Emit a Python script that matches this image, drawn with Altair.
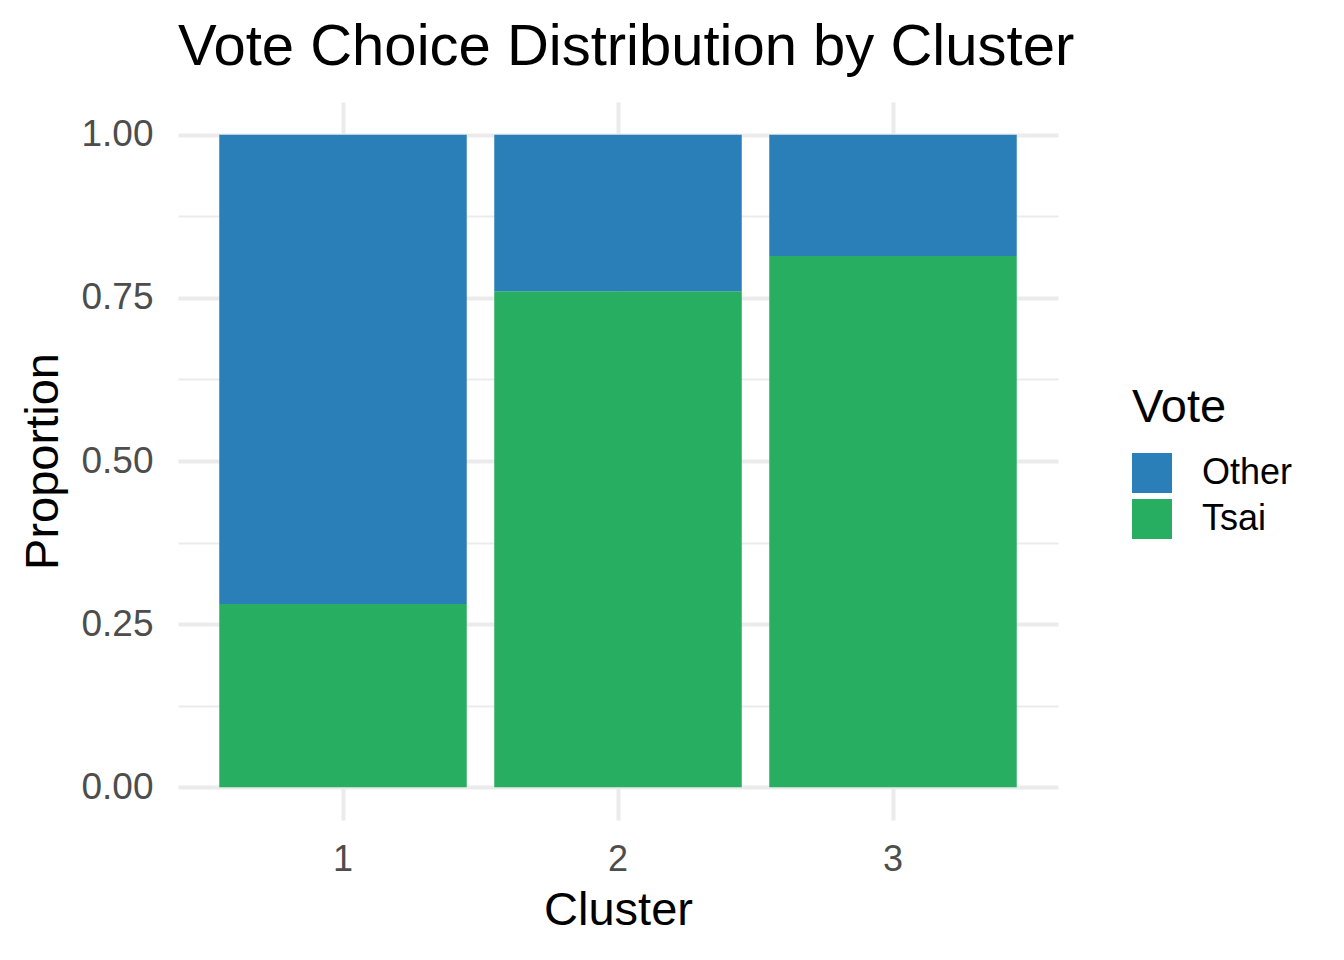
import altair as alt
import pandas as pd

clusters = ["1", "2", "3"]
tsai_share = [0.281, 0.760, 0.814]
other_share = [round(1 - v, 3) for v in tsai_share]
votes = ["Other", "Tsai"]
vote_colors = ["#2B7FB8", "#27AE60"]
y_ticks = [0, 0.125, 0.25, 0.375, 0.5, 0.625, 0.75, 0.875, 1.0]

rows = []
for c, t, o in zip(clusters, tsai_share, other_share):
    rows.append({"cluster": c, "vote": "Tsai", "prop": t, "ord": 0})
    rows.append({"cluster": c, "vote": "Other", "prop": o, "ord": 1})
df = pd.DataFrame(rows)

FONT = "Liberation Sans"

chart = (
    alt.Chart(df)
    .mark_bar()
    .encode(
        x=alt.X(
            "cluster:N",
            title="Cluster",
            scale=alt.Scale(paddingInner=0.1, paddingOuter=0.15),
            axis=alt.Axis(
                labelAngle=0,
                grid=True,
                bandPosition=0.5,
                gridColor="#EBEBEB",
                gridWidth=4,
                ticks=False,
                tickSize=0,
                domain=False,
                labelFontSize=36,
                labelColor="#4D4D4D",
                labelPadding=22,
                titleFontSize=47,
                titleFontWeight="normal",
                titleColor="#000000",
                titlePadding=10,
                labelFont=FONT,
                titleFont=FONT,
            ),
        ),
        y=alt.Y(
            "prop:Q",
            title="Proportion",
            stack="zero",
            scale=alt.Scale(domain=[-0.05, 1.05], nice=False, zero=False),
            axis=alt.Axis(
                values=y_ticks,
                labelExpr="datum.value % 0.25 === 0 ? format(datum.value, '.2f') : ''",
                grid=True,
                gridColor="#EBEBEB",
                gridWidth={"condition": {"test": "datum.value % 0.25 === 0", "value": 4}, "value": 2},
                ticks=False,
                tickSize=0,
                domain=False,
                labelFontSize=37,
                labelColor="#4D4D4D",
                labelPadding=25,
                titleFontSize=47,
                titleFontWeight="normal",
                titleColor="#000000",
                titlePadding=13,
                labelFont=FONT,
                titleFont=FONT,
            ),
        ),
        color=alt.Color(
            "vote:N",
            title="Vote",
            scale=alt.Scale(domain=votes, range=vote_colors),
            legend=alt.Legend(
                orient="none",
                legendX=954,
                legendY=283,
                symbolType="square",
                symbolSize=1600,
                symbolStrokeWidth=0,
                symbolOpacity=1,
                rowPadding=6,
                labelOffset=30,
                labelFontSize=36,
                labelFont=FONT,
                labelColor="#000000",
                titleFontSize=47,
                titleFont=FONT,
                titleFontWeight="normal",
                titleColor="#000000",
                titlePadding=21,
                padding=0,
            ),
        ),
        order=alt.Order("ord:Q", sort="ascending"),
    )
    .properties(
        width=880,
        height=718,
        title=alt.TitleParams(
            "Vote Choice Distribution by Cluster",
            anchor="start",
            frame="group",
            fontSize=58,
            font=FONT,
            fontWeight="normal",
            color="#000000",
            offset=25,
        ),
        autosize=alt.AutoSizeParams(type="none"),
        padding={"left": 170, "top": 94, "right": 278, "bottom": 132},
    )
    .configure_view(stroke=None)
)

chart.save("out.html", embed_options={"renderer": "svg", "actions": False})
